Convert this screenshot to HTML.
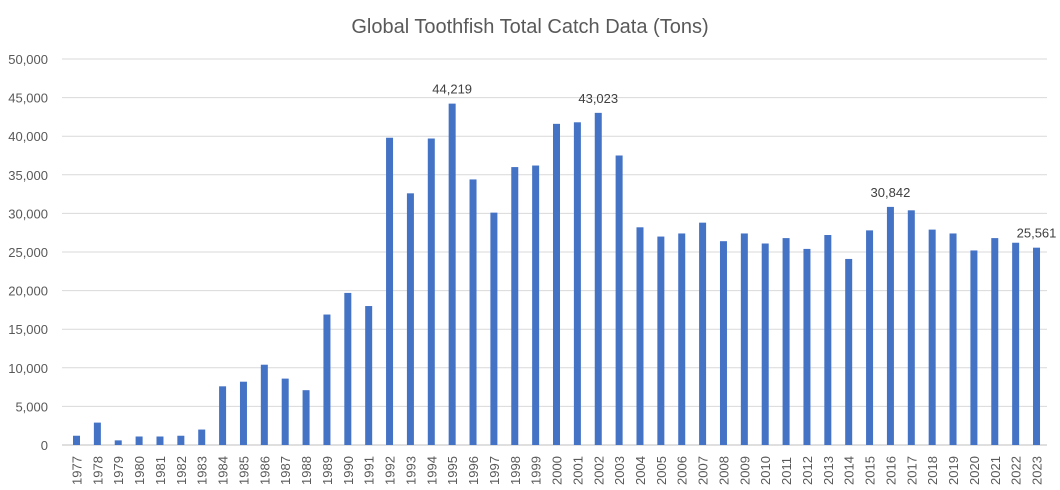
<!DOCTYPE html>
<html><head><meta charset="utf-8"><style>
html,body{margin:0;padding:0;background:#fff;width:1060px;height:490px;overflow:hidden}
svg{display:block;font-family:"Liberation Sans",sans-serif}
</style></head><body>
<svg id="c" width="1060" height="490" xmlns="http://www.w3.org/2000/svg">
<text x="530" y="33" text-anchor="middle" font-size="20" fill="#595959">Global Toothfish Total Catch Data (Tons)</text>
</svg>
<script>
(function(){
var v=[1200,2900,600,1100,1100,1200,2000,7600,8200,10400,8600,7100,16900,19700,18000,39800,32600,39700,44219,34400,30100,36000,36200,41600,41800,43023,37500,28200,27000,27400,28800,26400,27400,26100,26800,25400,27200,24100,27800,30842,30400,27900,27400,25200,26800,26200,25561];
var s=document.getElementById('c'),h='';
var y0=445,k=386/50000;
for(var i=0;i<=10;i++){var y=y0-i*5000*k;
h+='<line x1="62" x2="1047" y1="'+y+'" y2="'+y+'" stroke="'+(i==0?'#bfbfbf':'#d9d9d9')+'" stroke-width="1"/>';
h+='<text x="48" y="'+(y+5)+'" text-anchor="end" font-size="13" fill="#595959">'+(i*5000).toLocaleString('en-US')+'</text>';}
var lab={18:1,25:1,39:1,46:1};
for(var j=0;j<v.length;j++){var cx=76.5+j*20.87,ty=y0-v[j]*k;
h+='<rect x="'+(cx-3.5)+'" y="'+ty+'" width="7" height="'+(v[j]*k)+'" fill="#4472c4"/>';
h+='<text transform="translate('+(cx+5)+',485) rotate(-90)" font-size="13" fill="#595959">'+(1977+j)+'</text>';
if(lab[j])h+='<text x="'+cx+'" y="'+(ty-10)+'" text-anchor="middle" font-size="13" fill="#404040">'+v[j].toLocaleString('en-US')+'</text>';}
s.insertAdjacentHTML('beforeend',h);
})();
</script>
</body></html>
